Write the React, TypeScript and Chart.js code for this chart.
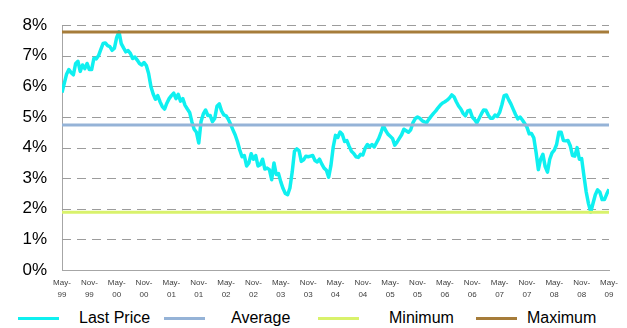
import React, { useEffect, useRef } from "react";
import { Chart, registerables } from "chart.js";

Chart.register(...registerables);

// Six-monthly axis labels, May-99 .. May-09
const TICK_LABELS = [
  "May-99", "Nov-99", "May-00", "Nov-00", "May-01", "Nov-01", "May-02",
  "Nov-02", "May-03", "Nov-03", "May-04", "Nov-04", "May-05", "Nov-05",
  "May-06", "Nov-06", "May-07", "Nov-07", "May-08", "Nov-08", "May-09",
];

// Months between consecutive price observations (semi-monthly closes)
const MONTHS_PER_POINT = 0.5;
const MONTHS_PER_TICK = 6;

// Last price in percent, semi-monthly from May-99
const LAST_PRICE = [
  5.80, 6.10, 6.40, 6.55, 6.45, 6.38, 6.75, 6.82, 6.49, 6.70,
  6.58, 6.75, 6.55, 6.55, 6.92, 6.90, 7.00, 7.20, 7.40, 7.42,
  7.33, 7.30, 7.18, 7.25, 7.60, 7.78, 7.40, 7.26, 7.13, 7.17,
  7.08, 6.91, 6.96, 6.86, 6.75, 6.70, 6.78, 6.68, 6.42, 6.00,
  5.75, 5.58, 5.70, 5.50, 5.34, 5.26, 5.45, 5.60, 5.70, 5.78,
  5.60, 5.74, 5.52, 5.60, 5.38, 5.26, 5.15, 4.84, 4.60, 4.50,
  4.15, 4.85, 5.10, 5.23, 5.05, 5.05, 4.85, 4.95, 5.35, 5.43,
  5.20, 5.07, 5.04, 4.92, 4.76, 4.58, 4.41, 4.19, 3.92, 3.70,
  3.74, 3.40, 3.50, 3.80, 3.62, 3.74, 3.40, 3.44, 3.62, 3.30,
  3.33, 3.28, 2.95, 3.50, 3.12, 3.15, 2.88, 2.66, 2.50, 2.46,
  2.68, 3.20, 3.88, 3.96, 3.90, 3.55, 3.60, 3.72, 3.70, 3.72,
  3.74, 3.58, 3.53, 3.62, 3.46, 3.33, 3.26, 3.03, 3.42, 4.02,
  4.40, 4.33, 4.51, 4.43, 4.20, 4.23, 4.04, 3.88, 3.81, 3.70,
  3.68, 3.78, 3.76, 3.98, 4.10, 4.03, 4.10, 4.02, 4.16, 4.30,
  4.50, 4.72, 4.56, 4.44, 4.37, 4.30, 4.08, 4.18, 4.30, 4.42,
  4.60, 4.55, 4.50, 4.58, 4.82, 4.95, 5.00, 4.96, 4.88, 4.84,
  4.82, 4.93, 5.03, 5.12, 5.20, 5.30, 5.39, 5.46, 5.50, 5.55,
  5.62, 5.72, 5.66, 5.50, 5.36, 5.26, 5.12, 5.04, 5.20, 5.22,
  5.00, 4.92, 4.81, 4.95, 5.10, 5.23, 5.22, 5.07, 4.96, 4.96,
  5.06, 5.02, 5.15, 5.40, 5.70, 5.72, 5.56, 5.42, 5.25, 5.08,
  4.94, 5.00, 4.90, 4.79, 4.67, 4.45, 4.46, 4.32, 3.85, 3.28,
  3.62, 3.78, 3.38, 3.20, 3.62, 3.83, 3.92, 4.10, 4.50, 4.50,
  4.23, 4.22, 4.23, 4.06, 3.74, 3.72, 4.00, 3.62, 3.64, 3.08,
  2.55, 2.17, 1.89, 2.18, 2.46, 2.62, 2.54, 2.30, 2.30, 2.48,
  2.64,
];

// Summary levels of the period
const AVERAGE = 4.74;
const MINIMUM = 1.89;
const MAXIMUM = 7.78;

const SERIES_NAMES = ["Last Price", "Average", "Minimum", "Maximum"];
const SERIES_COLORS = ["#0FF0F0", "#95B3D7", "#D9F26B", "#A67C3A"];

const FONT = '"Liberation Sans", Arial, Helvetica, sans-serif';
const AXIS_GREY = "#A6A6A6";
const GRID_GREY = "#9C9C9C";

// Legend placement (line sample start, label start)
const LEGEND_SLOTS = [
  { line: 18, text: 79 },
  { line: 164, text: 231 },
  { line: 318, text: 389 },
  { line: 476, text: 527 },
];

// Dashed horizontal grid at every y tick, drawn under the series
const dashedGrid = {
  id: "dashedGrid",
  beforeDatasetsDraw(chart: any) {
    const { ctx, chartArea, scales } = chart;
    const y = scales.y;
    ctx.save();
    ctx.strokeStyle = GRID_GREY;
    ctx.lineWidth = 1;
    ctx.setLineDash([9, 6]);
    y.ticks.forEach((t: any) => {
      if (t.value === y.min) return;
      const py = Math.round(y.getPixelForValue(t.value)) + 0.5;
      ctx.beginPath();
      ctx.moveTo(chartArea.left, py);
      ctx.lineTo(chartArea.right, py);
      ctx.stroke();
    });
    ctx.restore();
  },
};

export default function App() {
  const canvasRef = useRef<HTMLCanvasElement | null>(null);

  useEffect(() => {
    const canvas = canvasRef.current;
    if (!canvas) return;

    const span = (TICK_LABELS.length - 1) * MONTHS_PER_TICK;
    const pricePoints = LAST_PRICE.map((y, i) => ({ x: i * MONTHS_PER_POINT, y }));
    const level = (v: number) => [
      { x: 0, y: v },
      { x: span, y: v },
    ];

    const chart = new Chart(canvas, {
      type: "line",
      data: {
        datasets: [
          { label: SERIES_NAMES[0], data: pricePoints, borderColor: SERIES_COLORS[0], borderWidth: 3.5, order: 3 },
          { label: SERIES_NAMES[1], data: level(AVERAGE), borderColor: SERIES_COLORS[1], borderWidth: 3, order: 2 },
          { label: SERIES_NAMES[2], data: level(MINIMUM), borderColor: SERIES_COLORS[2], borderWidth: 3, order: 1 },
          { label: SERIES_NAMES[3], data: level(MAXIMUM), borderColor: SERIES_COLORS[3], borderWidth: 3, order: 0 },
        ],
      },
      options: {
        animation: false,
        responsive: false,
        devicePixelRatio: 1,
        layout: { padding: { top: 17, right: 18, left: 0, bottom: 0 } },
        elements: {
          point: { radius: 0, hoverRadius: 0 },
          line: { tension: 0, borderJoinStyle: "round", borderCapStyle: "butt", fill: false },
        },
        plugins: {
          legend: { display: false },
          tooltip: { enabled: false },
        },
        scales: {
          x: {
            type: "linear",
            min: 0,
            max: span,
            afterFit: (scale: any) => {
              scale.height = 30;
            },
            grid: { display: false, drawTicks: false },
            border: { display: true, color: AXIS_GREY, width: 1 },
            ticks: {
              stepSize: MONTHS_PER_TICK,
              autoSkip: false,
              maxRotation: 0,
              minRotation: 0,
              padding: 7.5,
              color: "#404040",
              font: { family: FONT, size: 8, lineHeight: 1.41 },
              callback: (value: any) => {
                const label = TICK_LABELS[Math.round(Number(value) / MONTHS_PER_TICK)];
                if (!label) return "";
                const [month, year] = label.split("-");
                return [month + "-", year];
              },
            },
          },
          y: {
            min: 0,
            max: 8,
            afterFit: (scale: any) => {
              scale.width = 62;
            },
            grid: { display: false, drawTicks: false },
            border: { display: true, color: AXIS_GREY, width: 1 },
            ticks: {
              stepSize: 1,
              padding: 15,
              color: "#000000",
              font: { family: FONT, size: 17 },
              callback: (value: any) => `${value}%`,
            },
          },
        },
      },
      plugins: [dashedGrid],
    });

    return () => chart.destroy();
  }, []);

  return (
    <div
      style={{
        position: "fixed",
        left: 0,
        top: 0,
        width: 627,
        height: 328,
        background: "#ffffff",
        fontFamily: FONT,
      }}
    >
      <canvas
        ref={canvasRef}
        width={627}
        height={300}
        style={{ position: "absolute", left: 0, top: 0, width: 627, height: 300 }}
      />
      {SERIES_NAMES.map((name, i) => (
        <React.Fragment key={name}>
          <div
            style={{
              position: "absolute",
              left: LEGEND_SLOTS[i].line,
              top: 317,
              width: 41,
              height: 3,
              background: SERIES_COLORS[i],
            }}
          />
          <div
            style={{
              position: "absolute",
              left: LEGEND_SLOTS[i].text,
              top: 309,
              fontSize: 16,
              lineHeight: "18px",
              color: "#000000",
              whiteSpace: "nowrap",
            }}
          >
            {name}
          </div>
        </React.Fragment>
      ))}
    </div>
  );
}
